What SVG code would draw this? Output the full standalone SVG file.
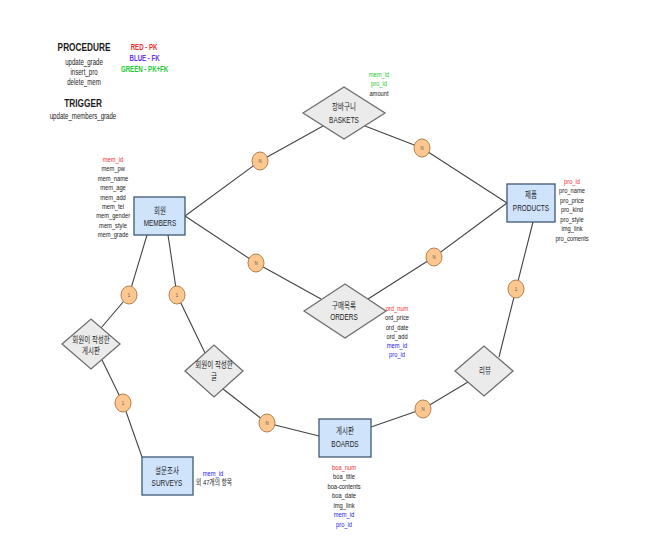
<svg xmlns="http://www.w3.org/2000/svg" width="661" height="551" viewBox="0 0 661 551">
<style>
text{font-family:"Liberation Sans","Noto Sans CJK KR",sans-serif;text-anchor:middle;fill:#1a1a1a;transform:scaleX(0.72);transform-box:fill-box;transform-origin:center}
.h{font-size:11.5px;font-weight:bold}
.p{font-size:8.5px}
.lg{font-size:8.5px;font-weight:bold}
.a{font-size:8px}
.lb{font-size:9px;fill:#222}
.c{font-size:6px;fill:#555}
.r{fill:#f03030}
.b{fill:#2222ee}
.g{fill:#22cc33}
.lgb{fill:#6633ee}
.ent{fill:#cfe4fb;stroke:#3f5870;stroke-width:1.3}
.rel{fill:#ebebeb;stroke:#6e6e6e;stroke-width:1.3}
.card{fill:#fdc78f;stroke:#b08050;stroke-width:1}
.ln{fill:none;stroke:#444;stroke-width:1.1}
</style>
<rect width="661" height="551" fill="#fff"/>
<g id="legend">
<text class="h" x="84" y="51">PROCEDURE</text>
<text class="p" x="84" y="65">update_grade</text>
<text class="p" x="84" y="75">insert_pro</text>
<text class="p" x="84" y="85">delete_mem</text>
<text class="h" x="83" y="107">TRIGGER</text>
<text class="p" x="83" y="119">update_members_grade</text>
<text class="lg r" x="144" y="50">RED - PK</text>
<text class="lg lgb" x="144.5" y="61">BLUE - FK</text>
<text class="lg g" x="144.5" y="72">GREEN - PK+FK</text>
</g>
<g id="connectors">
<polyline class="ln" points="185,216 260,161 323,126"/>
<polyline class="ln" points="365,126 422,148 507,203"/>
<polyline class="ln" points="185,216 256,263 321,299"/>
<polyline class="ln" points="368,299 434,257 507,203"/>
<polyline class="ln" points="147,235 129,295 101,328"/>
<polyline class="ln" points="102,360 123,403 142,457"/>
<polyline class="ln" points="168,235 177,295 205,353"/>
<polyline class="ln" points="223,389 267,423 319,436"/>
<polyline class="ln" points="533,222 516,289 499,357"/>
<polyline class="ln" points="468,382 423,409 371,427"/>
</g>
<g id="cardinalities">
<g><ellipse class="card" cx="260" cy="161" rx="8" ry="9"/><text class="c" x="260" y="163">N</text></g>
<g><ellipse class="card" cx="422" cy="148" rx="8" ry="9"/><text class="c" x="422" y="150">N</text></g>
<g><ellipse class="card" cx="256" cy="263" rx="8" ry="9"/><text class="c" x="256" y="265">N</text></g>
<g><ellipse class="card" cx="434" cy="257" rx="8" ry="9"/><text class="c" x="434" y="259">N</text></g>
<g><ellipse class="card" cx="129" cy="295" rx="8" ry="9"/><text class="c" x="129" y="297">1</text></g>
<g><ellipse class="card" cx="123" cy="403" rx="8" ry="9"/><text class="c" x="123" y="405">1</text></g>
<g><ellipse class="card" cx="177" cy="295" rx="8" ry="9"/><text class="c" x="177" y="297">1</text></g>
<g><ellipse class="card" cx="267" cy="423" rx="8" ry="9"/><text class="c" x="267" y="425">N</text></g>
<g><ellipse class="card" cx="516" cy="289" rx="8" ry="9"/><text class="c" x="516" y="291">1</text></g>
<g><ellipse class="card" cx="423" cy="409" rx="8" ry="9"/><text class="c" x="423" y="411">N</text></g>
</g>
<g id="members">
<rect class="ent" x="134" y="197" width="51" height="38"/>
<text class="lb" x="160" y="214">회원</text>
<text class="lb" x="160" y="226">MEMBERS</text>
<text class="a r" x="113" y="162">mem_id</text>
<text class="a" x="113" y="171.4">mem_pw</text>
<text class="a" x="113" y="180.8">mem_name</text>
<text class="a" x="113" y="190.2">mem_age</text>
<text class="a" x="113" y="199.6">mem_add</text>
<text class="a" x="113" y="209">mem_tel</text>
<text class="a" x="113" y="218.4">mem_gender</text>
<text class="a" x="113" y="227.8">mem_style</text>
<text class="a" x="113" y="237.2">mem_grade</text>
</g>
<g id="baskets">
<polygon class="rel" points="303,113 344,87 385,113 344,139"/>
<text class="lb" x="344" y="110">장바구니</text>
<text class="lb" x="344" y="123">BASKETS</text>
<text class="a g" x="379" y="77">mem_id</text>
<text class="a g" x="379" y="86.5">pro_id</text>
<text class="a" x="379" y="96">amount</text>
</g>
<g id="products">
<rect class="ent" x="507" y="184" width="48" height="38"/>
<text class="lb" x="531" y="198">제품</text>
<text class="lb" x="531" y="211">PRODUCTS</text>
<text class="a r" x="572" y="184">pro_id</text>
<text class="a" x="572" y="193.5">pro_name</text>
<text class="a" x="572" y="203">pro_price</text>
<text class="a" x="572" y="212.5">pro_kind</text>
<text class="a" x="572" y="222">pro_style</text>
<text class="a" x="572" y="231.5">img_link</text>
<text class="a" x="572" y="241">pro_coments</text>
</g>
<g id="orders">
<polygon class="rel" points="304,311 345,284 386,311 345,338"/>
<text class="lb" x="344" y="309">구매목록</text>
<text class="lb" x="344" y="320">ORDERS</text>
<text class="a r" x="397" y="311">ord_num</text>
<text class="a" x="397" y="320.3">ord_price</text>
<text class="a" x="397" y="329.6">ord_date</text>
<text class="a" x="397" y="338.9">ord_add</text>
<text class="a b" x="397" y="348.2">mem_id</text>
<text class="a b" x="397" y="357.5">pro_id</text>
</g>
<g id="review">
<polygon class="rel" points="455,371 484,346 513,371 484,396"/>
<text class="lb" x="485" y="374">리뷰</text>
</g>
<g id="member-boards">
<polygon class="rel" points="62,344 91,319 120,344 91,369"/>
<text class="lb" x="91" y="343">회원이 작성한</text>
<text class="lb" x="91" y="354">게시판</text>
</g>
<g id="member-posts">
<polygon class="rel" points="185,371 214,345 243,371 214,397"/>
<text class="lb" x="214" y="368">회원이 작성한</text>
<text class="lb" x="214" y="380">글</text>
</g>
<g id="boards">
<rect class="ent" x="319" y="419" width="52" height="38"/>
<text class="lb" x="345" y="434">게시판</text>
<text class="lb" x="345" y="447">BOARDS</text>
<text class="a r" x="344" y="470">boa_num</text>
<text class="a" x="344" y="479.5">boa_title</text>
<text class="a" x="344" y="489">boa-contents</text>
<text class="a" x="344" y="498.5">boa_date</text>
<text class="a" x="344" y="508">img_link</text>
<text class="a b" x="344" y="517.5">mem_id</text>
<text class="a b" x="344" y="527">pro_id</text>
</g>
<g id="surveys">
<rect class="ent" x="142" y="457" width="51" height="38"/>
<text class="lb" x="167" y="474">설문조사</text>
<text class="lb" x="167" y="486">SURVEYS</text>
<text class="a b" x="213" y="476">mem_id</text>
<text class="a" x="214" y="485.5">외 47개의 항목</text>
</g>
</svg>
